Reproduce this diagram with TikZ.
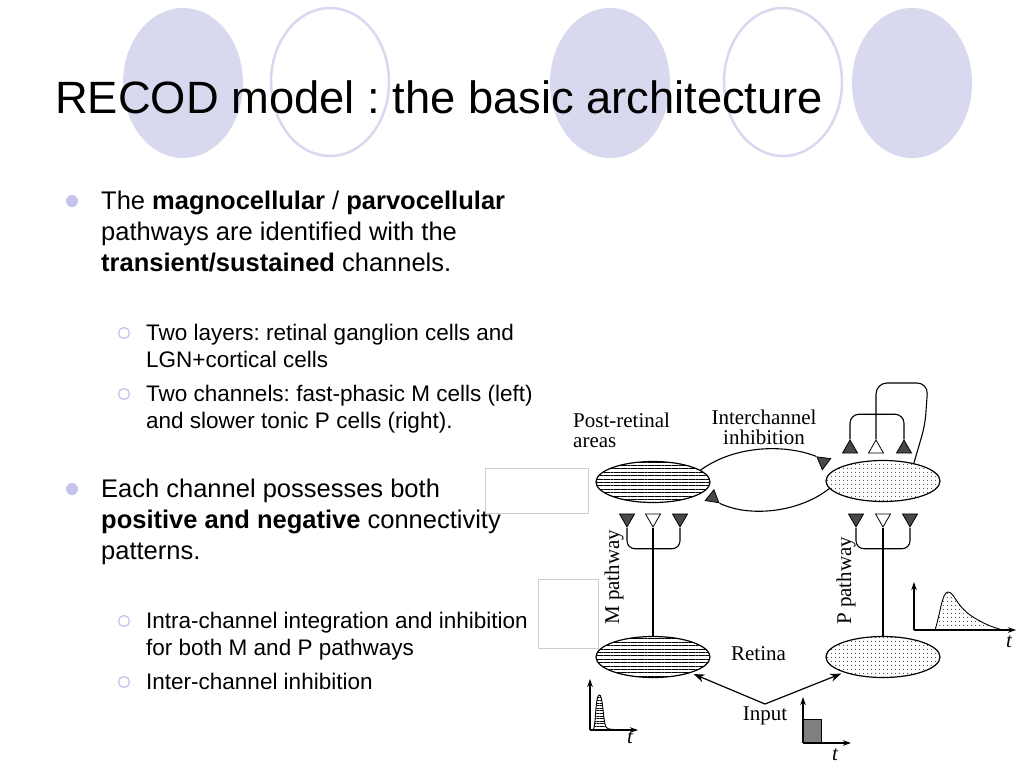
\documentclass[tikz,border=0pt]{standalone}
\usepackage{fontspec}
\setmainfont{Liberation Sans}
\newfontfamily\serifdia{Liberation Serif}
\usetikzlibrary{shapes.geometric,patterns.meta,arrows.meta}
\definecolor{lav}{RGB}{216,216,238}
\definecolor{lavb}{RGB}{196,196,236}
\definecolor{tri}{RGB}{72,72,72}
\definecolor{boxgray}{RGB}{205,205,205}
\frenchspacing
\begin{document}
\begin{tikzpicture}[x=1pt,y=-1pt,
  mtext/.style={anchor=base west, inner sep=0, font=\fontsize{25.5}{31}\selectfont},
  stext/.style={anchor=base west, inner sep=0, font=\fontsize{22.5}{27}\selectfont},
  dtext/.style={inner sep=0, font=\serifdia\fontsize{21}{20}\selectfont},
  ttext/.style={inner sep=0, anchor=base west, font=\serifdia\itshape\fontsize{21}{21}\selectfont},
  cellnode/.style={ellipse, draw, line width=1.2pt, minimum width=114pt, minimum height=41pt, inner sep=0},
  mfill/.style={pattern={Lines[angle=0,distance=3.4pt,line width=0.9pt]}},
  pfill/.style={pattern={Dots[distance=4pt,radius=0.6pt]}},
  syn/.style={regular polygon, regular polygon sides=3, draw, line width=0.8pt, fill=tri, minimum size=17.3pt, inner sep=0},
  synh/.style={syn, fill=white},
  wire/.style={line width=1.1pt},
  axisline/.style={line width=1.1pt, -{Stealth[length=8pt,width=5.5pt]}},
  inarrow/.style={line width=1.2pt, -{Stealth[length=11pt,width=8pt]}, shorten >=3pt},
  mainbullet/.style={fill=lavb},
  subbullet/.style={draw=lavb, line width=1.3pt},
  faintbox/.style={draw=boxgray, line width=0.8pt, fill=white}
]
\useasboundingbox (0,0) rectangle (1024,768);
\fill[white] (0,0) rectangle (1024,768);

% title circles
\fill[lav] (183,83) ellipse [x radius=60pt, y radius=75pt];
\draw[lav, line width=2.5pt] (330,82) ellipse [x radius=59pt, y radius=74pt];
\fill[lav] (610,83) ellipse [x radius=60pt, y radius=75pt];
\draw[lav, line width=2.5pt] (783,82) ellipse [x radius=59pt, y radius=74pt];
\fill[lav] (912,83) ellipse [x radius=60pt, y radius=75pt];

\node[anchor=base west, inner sep=0, font=\fontsize{45.3}{50}\selectfont] (title) at (55,113) {RECOD model : the basic architecture};

% faint boxes
\draw[faintbox] (485,468) rectangle (588,513);
\draw[faintbox] (538,579) rectangle (598,648);

% bullets
\fill[mainbullet] (72,201) circle [radius=6pt];
\fill[mainbullet] (72,489) circle [radius=6pt];
\draw[subbullet] (124,333) circle [radius=5.5pt];
\draw[subbullet] (124,394) circle [radius=5.5pt];
\draw[subbullet] (124,621) circle [radius=5.5pt];
\draw[subbullet] (124,682) circle [radius=5.5pt];

\node[mtext] (m1) at (101,209) {The \textbf{magnocellular} / \textbf{parvocellular}};
\node[mtext] (m2) at (101,240) {pathways are identified with the};
\node[mtext] (m3) at (101,271) {\textbf{transient/sustained} channels.};
\node[stext] (s1) at (146,340) {Two layers: retinal ganglion cells and};
\node[stext] (s2) at (146,367) {LGN+cortical cells};
\node[stext] (s3) at (146,401) {Two channels: fast-phasic M cells (left)};
\node[stext] (s4) at (146,428) {and slower tonic P cells (right).};
\node[mtext] (m4) at (101,497) {Each channel possesses both};
\node[mtext] (m5) at (101,528) {\textbf{positive and negative} connectivity};
\node[mtext] (m6) at (101,559) {patterns.};
\node[stext] (s5) at (146,628) {Intra-channel integration and inhibition};
\node[stext] (s6) at (146,655) {for both M and P pathways};
\node[stext] (s7) at (146,689) {Inter-channel inhibition};

% ---------- diagram ----------
\node[cellnode, mfill] (Mtop) at (653,482) {};
\node[cellnode, pfill] (Ptop) at (883,481) {};
\node[cellnode, mfill] (Mbot) at (653,657) {};
\node[cellnode, pfill] (Pbot) at (883,657) {};

% lower synapse forks (pointing down)
\node[syn, shape border rotate=180] (ml1) at (627,518.3) {};
\node[synh, shape border rotate=180] (ml2) at (653,518.3) {};
\node[syn, shape border rotate=180] (ml3) at (680,518.3) {};
\node[syn, shape border rotate=180] (pl1) at (856,518.3) {};
\node[synh, shape border rotate=180] (pl2) at (883,518.3) {};
\node[syn, shape border rotate=180] (pl3) at (910,518.3) {};
\draw[wire, rounded corners=8pt] (ml1.corner 1) -- ++(0,21) -| (ml3.corner 1);
\draw[wire, rounded corners=8pt] (pl1.corner 1) -- ++(0,21) -| (pl3.corner 1);
\draw[wire] (ml2.corner 1) -- (Mbot);
\draw[wire] (pl2.corner 1) -- (Pbot);

% upper synapse fork on P (pointing up)
\node[syn] (pu1) at (850,448.7) {};
\node[synh] (pu2) at (876,448.7) {};
\node[syn] (pu3) at (904,448.7) {};
\draw[wire, rounded corners=9pt] (pu1.corner 1) -- ++(0,-25) -| (pu3.corner 1);
\draw[wire, rounded corners=11pt] (pu2.corner 1) |- (928,383) -- (925,425) -- (Ptop.30);

% interchannel inhibition
\node[syn, minimum size=16pt, shape border rotate=53] (tu) at (823.3,461.7) {};
\node[syn, minimum size=16pt, shape border rotate=-129] (tl) at (712.7,497.7) {};
\draw[wire] (Mtop.14) .. controls (735,445) and (785,444) .. (tu.corner 1);
\draw[wire] (Ptop.188) .. controls (800,512) and (750,518) .. (tl.corner 1);

% labels
\node[dtext, anchor=north west, align=left] (pr) at (573,413) {Post-retinal\\areas};
\node[dtext, anchor=north, align=center] (ic) at (764,410) {Interchannel\\inhibition};
\node[dtext, anchor=base west, rotate=90] (mpath) at (619,625) {M pathway};
\node[dtext, anchor=base west, rotate=90] (ppath) at (851,625) {P pathway};
\node[dtext, anchor=base] (retina) at (758.5,660) {Retina};
\node[dtext, anchor=base] (input) at (765,720) {Input};

% input arrows
\coordinate (inV) at (765,704);
\draw[inarrow] (inV) -- (Mbot);
\draw[inarrow] (inV) -- (Pbot);

% M response inset
\coordinate (mo) at (590,730);
\coordinate (my) at (590,679);
\coordinate (mx) at (638,730);
\filldraw[line width=0.9pt, fill=white] (593,730) .. controls (596,728) and (595,697) .. (599,695) .. controls (603,693) and (603,722) .. (606,727) .. controls (608,730) and (612,729) .. (620,730) -- cycle;
\fill[pattern={Lines[angle=0,distance=2.6pt,line width=0.8pt]}] (593,730) .. controls (596,728) and (595,697) .. (599,695) .. controls (603,693) and (603,722) .. (606,727) .. controls (608,730) and (612,729) .. (620,730) -- cycle;
\draw[axisline] (mo) -- (my);
\draw[axisline] (mo) -- (mx);
\node[ttext] (mt) at (627,743) {t};

% input inset
\coordinate (io) at (803,743);
\coordinate (iy) at (803,697);
\coordinate (ix) at (851,743);
\filldraw[fill=gray, line width=0.9pt] (803,719) rectangle (821,743);
\draw[axisline] (io) -- (iy);
\draw[axisline] (io) -- (ix);
\node[ttext] (it) at (832,760) {t};

% P response inset
\coordinate (po) at (914,630);
\coordinate (py) at (914,582);
\coordinate (px) at (1016,630);
\filldraw[line width=0.9pt, pfill] (935,630) .. controls (940,615) and (942,592) .. (948,592) .. controls (954,592) and (956,605) .. (970,615) .. controls (985,625) and (995,628) .. (1003,630) -- cycle;
\draw[axisline] (po) -- (py);
\draw[axisline] (po) -- (px);
\node[ttext] (pt) at (1006,647) {t};
\end{tikzpicture}
\end{document}
